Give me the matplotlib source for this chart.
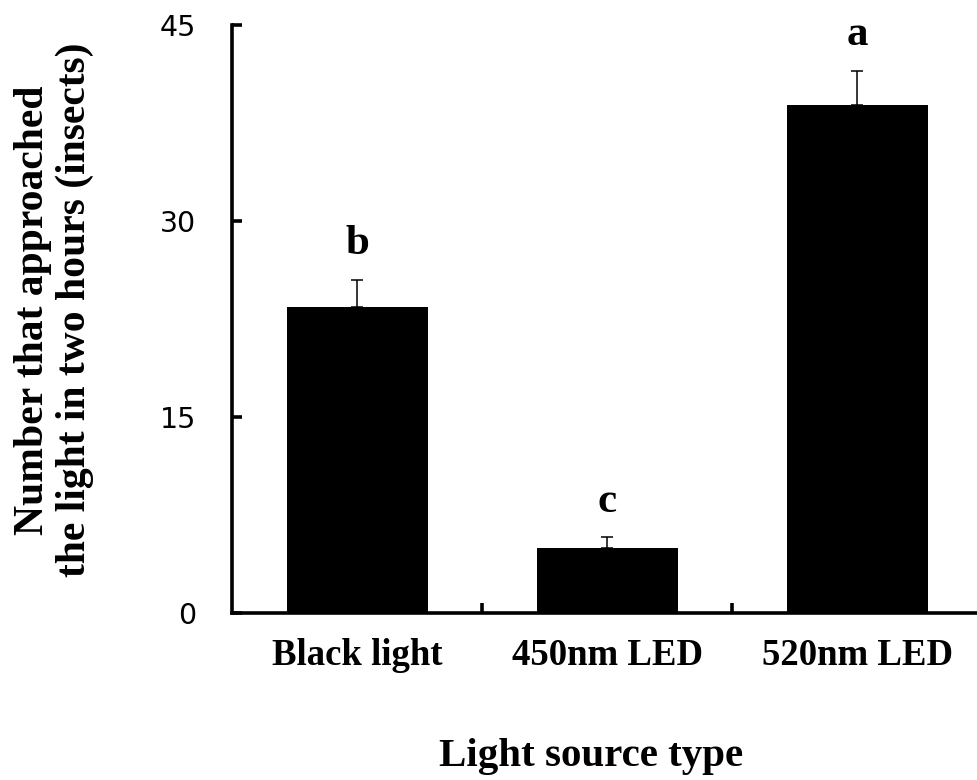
import matplotlib
matplotlib.use('Agg')
import matplotlib.pyplot as plt
import numpy as np

# values
categories = ['Black light', '450nm LED', '520nm LED']
means = [23.4, 5.0, 38.9]
errors = [2.1, 0.8, 2.6]
letters = ['b', 'c', 'a']
y_ticks = [0, 15, 30, 45]

serif = 'Liberation Serif'

fig = plt.figure(figsize=(9.78, 7.80), dpi=100)
# axes runs a little past the right edge, as in the reference
ax = fig.add_axes([0.2377, 0.2141, 0.7669, 0.7539])

x = np.arange(len(categories))
ax.bar(x, means, width=0.564, color='black', zorder=2)
ax.errorbar(x, means, yerr=[np.zeros(len(means)), errors], fmt='none',
            ecolor='black', elinewidth=1.1, capsize=4.5, capthick=1.1, zorder=3)

for xi, m, e, letter in zip(x, means, errors, letters):
    ax.annotate(letter, xy=(xi, m + e), xytext=(0, 12), textcoords='offset points',
                ha='center', va='bottom', fontsize=31, fontweight='bold',
                family=serif)

ax.set_xlim(-0.5, 2.5)
ax.set_ylim(0, 45)
ax.set_yticks(y_ticks)
ax.set_xticks([0.5, 1.5])
ax.set_xticklabels([])
# category names sit under the bars, separator ticks between them
for xi, name in zip(x, categories):
    ax.text(xi, -0.073, name, transform=ax.get_xaxis_transform(),
            ha='center', va='center', fontsize=26.5, fontweight='bold', family=serif)

ax.spines['top'].set_visible(False)
ax.spines['right'].set_visible(False)
ax.spines['left'].set_linewidth(2.6)
ax.spines['bottom'].set_linewidth(2.6)
ax.tick_params(axis='both', direction='in', length=7, width=2.6)
ax.tick_params(axis='y', labelsize=20.5, pad=26)

ax.set_ylabel('Number that approached\nthe light in two hours (insects)',
              fontsize=30, fontweight='bold', family=serif, linespacing=1.13)
ax.yaxis.set_label_coords(-0.184, 0.515)
ax.set_xlabel('Light source type', fontsize=29.5, fontweight='bold', family=serif)
ax.xaxis.set_label_coords(0.478, -0.213)

fig.savefig('out.png', dpi=100)
